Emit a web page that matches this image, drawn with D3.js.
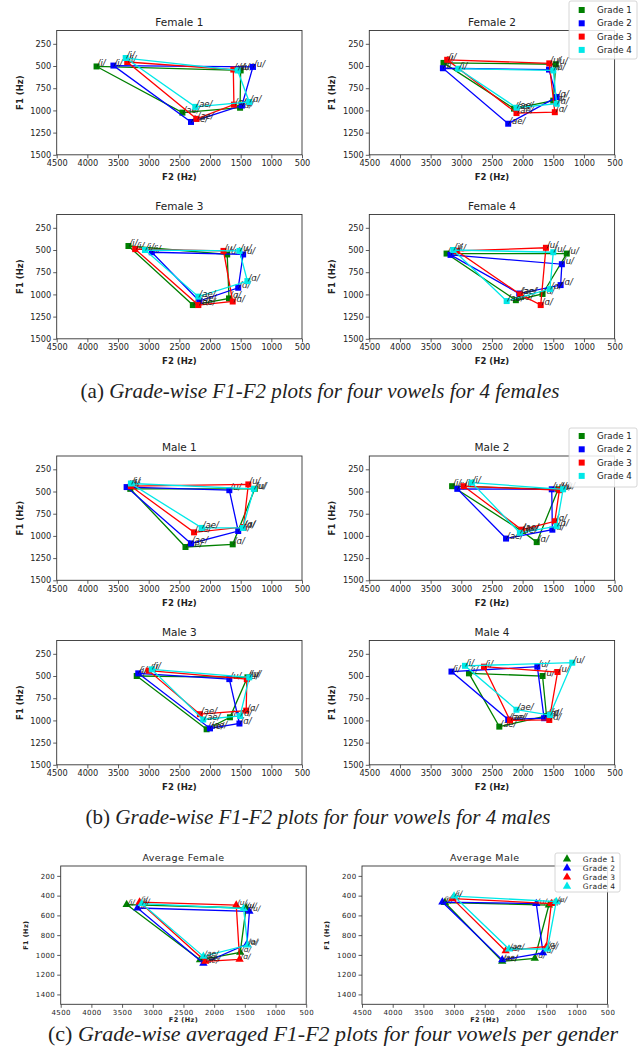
<!DOCTYPE html>
<html>
<head>
<meta charset="utf-8">
<title>Grade-wise F1-F2 plots</title>
<script src="https://d3js.org/d3.v7.min.js"></script>
<style>
  body { margin: 0; background: #fff; }
  svg text { font-family: "DejaVu Sans", sans-serif; fill: #222; }
  .caption { font-family: "Liberation Serif", "Times New Roman", serif; }
</style>
</head>
<body>
<script>
// vowel order inside each row: /i/, /u/, /ɑ/, /ae/ ; one row per grade
var grades = ["Grade 1", "Grade 2", "Grade 3", "Grade 4"];
var vowels = ["/i/", "/u/", "/ɑ/", "/ae/"];
var gradeColors = ["#008000", "#0000ff", "#ff0000", "#00e8e8"];

var f2Ticks = [4500, 4000, 3500, 3000, 2500, 2000, 1500, 1000, 500];
var f1TicksSpeaker = [250, 500, 750, 1000, 1250, 1500];
var f1TicksAverage = [200, 400, 600, 800, 1000, 1200, 1400];

var female1F2 = [[3850, 1500, 1510, 2450], [3575, 1300, 1480, 2310], [3350, 1620, 1610, 2220], [3375, 1550, 1360, 2240]];
var female1F1 = [[505, 550, 970, 1025], [495, 510, 945, 1130], [455, 540, 935, 1095], [410, 550, 905, 960]];

var female2F2 = [[3290, 1460, 1500, 2140], [3300, 1570, 1445, 2235], [3230, 1565, 1475, 2100], [3050, 1500, 1445, 2100]];
var female2F1 = [[465, 480, 890, 980], [525, 540, 850, 1150], [430, 470, 1020, 1030], [530, 550, 925, 970]];

var female3F2 = [[3330, 1720, 1690, 2280], [2950, 1460, 1540, 2175], [3220, 1780, 1630, 2190], [3060, 1520, 1390, 2190]];
var female3F1 = [[455, 550, 1045, 1120], [525, 550, 925, 1075], [490, 510, 1080, 1120], [500, 510, 850, 1025]];

var female4F2 = [[3240, 1280, 1675, 2110], [3175, 1360, 1380, 2055], [3075, 1620, 1705, 2040], [3130, 1500, 1555, 2260]];
var female4F1 = [[540, 540, 995, 1065], [555, 660, 895, 990], [510, 475, 1120, 1000], [500, 525, 940, 1075]];

var male1F2 = [[3300, 1270, 1630, 2400], [3360, 1685, 1540, 2310], [3290, 1375, 1455, 2260], [3290, 1285, 1465, 2135]];
var male1F1 = [[470, 470, 1095, 1125], [450, 485, 945, 1085], [440, 420, 900, 960], [410, 470, 910, 910]];

var male2F2 = [[3150, 1420, 1770, 2015], [3065, 1525, 1515, 2270], [2960, 1400, 1475, 2015], [2830, 1340, 1445, 2045]];
var male2F1 = [[440, 475, 1070, 945], [470, 475, 930, 1030], [440, 485, 835, 930], [400, 475, 890, 965]];

var male3F2 = [[3195, 1390, 1675, 2055], [3170, 1685, 1520, 2000], [3000, 1400, 1410, 2165], [2950, 1360, 1510, 2110]];
var male3F1 = [[500, 515, 965, 1100], [470, 535, 1035, 1090], [440, 535, 890, 930], [425, 515, 950, 990]];

var male4F2 = [[2875, 1675, 1610, 2380], [3160, 1760, 1650, 2235], [2630, 1430, 1565, 2205], [2940, 1190, 1555, 2100]];
var male4F1 = [[470, 500, 950, 1070], [450, 395, 975, 990], [395, 455, 995, 1000], [385, 350, 940, 880]];

var avgFemaleF2 = [[3425, 1480, 1575, 2230], [3250, 1425, 1465, 2175], [3215, 1640, 1585, 2145], [3180, 1520, 1455, 2175]];
var avgFemaleF1 = [[490, 525, 975, 1050], [525, 560, 890, 1085], [465, 495, 1045, 1065], [480, 530, 900, 1015]];

var avgMaleF2 = [[3150, 1455, 1685, 2215], [3190, 1660, 1550, 2215], [3025, 1415, 1495, 2160], [3000, 1335, 1480, 2105]];
var avgMaleF1 = [[470, 495, 1035, 1065], [465, 480, 980, 1050], [430, 480, 915, 960], [405, 460, 940, 940]];

var captions = [
  { tag: "(a) ", text: "Grade-wise F1-F2 plots for four vowels for 4 females", x: 320, y: 398, size: 21 },
  { tag: "(b) ", text: "Grade-wise F1-F2 plots for four vowels for 4 males", x: 318, y: 824, size: 21 },
  { tag: "(c) ", text: "Grade-wise averaged F1-F2 plots for four vowels per gender", x: 333, y: 1041, size: 22 }
];

var width = 643, height = 1047;
var svg = d3.select("body").append("svg").attr("width", width).attr("height", height);

// frame positions of each subplot
var speakerStyle = { w: 245.3, h: 124.3, ticks: f1TicksSpeaker, marker: d3.symbolSquare, size: 36,
  tickFont: 8.2, titleFont: 10.5, labelFont: 8.5, vowelFont: 8.5, ylabelOff: 37, xlabelOff: 22.5, spacing: 0 };
var averageStyle = { w: 245.5, h: 138.3, ticks: f1TicksAverage, marker: d3.symbolTriangle, size: 30,
  tickFont: 7, titleFont: 9.5, labelFont: 6.5, vowelFont: 7.5, ylabelOff: 35, xlabelOff: 16, spacing: 0.4 };

var panels = [
  { title: "Female 1", f2: female1F2, f1: female1F1, x: 56.7, y: 30.5, s: speakerStyle },
  { title: "Female 2", f2: female2F2, f1: female2F1, x: 369.3, y: 30.5, s: speakerStyle,
    legend: { x: 569, y: 1, w: 68, h: 58, first: 9, step: 13.3, mx: 12.7, tx: 28, font: 8.7 } },
  { title: "Female 3", f2: female3F2, f1: female3F1, x: 56.7, y: 214.5, s: speakerStyle },
  { title: "Female 4", f2: female4F2, f1: female4F1, x: 369.3, y: 214.5, s: speakerStyle },
  { title: "Male 1", f2: male1F2, f1: male1F1, x: 56.7, y: 456, s: speakerStyle },
  { title: "Male 2", f2: male2F2, f1: male2F1, x: 369.3, y: 456, s: speakerStyle,
    legend: { x: 569, y: 428, w: 68, h: 59, first: 8, step: 13.3, mx: 12.7, tx: 28, font: 8.7 } },
  { title: "Male 3", f2: male3F2, f1: male3F1, x: 56.7, y: 640.5, s: speakerStyle },
  { title: "Male 4", f2: male4F2, f1: male4F1, x: 369.3, y: 640.5, s: speakerStyle },
  { title: "Average Female", f2: avgFemaleF2, f1: avgFemaleF1, x: 60.7, y: 866, s: averageStyle },
  { title: "Average Male", f2: avgMaleF2, f1: avgMaleF1, x: 362, y: 866, s: averageStyle,
    legend: { x: 555, y: 853, w: 65, h: 39, first: 6, step: 9.1, mx: 12, tx: 27.7, font: 7.5 } }
];

panels.forEach(drawPanel);

function drawPanel(p) {
  var s = p.s;
  var g = svg.append("g").attr("transform", "translate(" + p.x + "," + p.y + ")");

  var xScale = d3.scaleLinear().domain([4500, 500]).range([0, s.w]);
  var yScale = d3.scaleLinear().domain([100, 1500]).range([0, s.h]);

  // axes
  var xAxis = g.append("g")
    .attr("transform", "translate(0," + s.h + ")")
    .call(d3.axisBottom(xScale).tickValues(f2Ticks).tickFormat(d3.format("d")).tickSize(3.5).tickPadding(2));
  var yAxis = g.append("g")
    .call(d3.axisLeft(yScale).tickValues(s.ticks).tickFormat(d3.format("d")).tickSize(3.5).tickPadding(2));
  [xAxis, yAxis].forEach(function (a) {
    a.select(".domain").remove();
    a.selectAll(".tick line").attr("stroke", "#333").attr("stroke-width", 0.8);
    a.selectAll(".tick text").attr("font-family", "DejaVu Sans").attr("font-size", s.tickFont)
      .attr("letter-spacing", s.spacing).attr("fill", "#333");
  });

  // frame
  g.append("rect").attr("width", s.w).attr("height", s.h)
    .attr("fill", "none").attr("stroke", "#333").attr("stroke-width", 0.9);

  g.append("text").attr("x", s.w / 2).attr("y", -5).attr("text-anchor", "middle")
    .attr("font-size", s.titleFont).attr("letter-spacing", s.spacing).text(p.title);

  g.append("text").attr("x", s.w / 2).attr("y", s.h + s.xlabelOff)
    .attr("text-anchor", "middle").attr("dominant-baseline", "central")
    .attr("font-size", s.labelFont).attr("font-weight", "bold").attr("letter-spacing", s.spacing)
    .text("F2 (Hz)");

  g.append("text")
    .attr("transform", "translate(" + (-s.ylabelOff) + "," + (s.h / 2) + ") rotate(-90)")
    .attr("text-anchor", "middle").attr("dominant-baseline", "central")
    .attr("font-size", s.labelFont).attr("font-weight", "bold").attr("letter-spacing", s.spacing)
    .text("F1 (Hz)");

  var line = d3.line()
    .x(function (d) { return xScale(d[0]); })
    .y(function (d) { return yScale(d[1]); })
    .curve(d3.curveLinearClosed);

  grades.forEach(function (grade, gi) {
    var pts = p.f2[gi].map(function (f2, vi) { return [f2, p.f1[gi][vi], vowels[vi]]; });
    var gg = g.append("g");
    gg.append("path").attr("d", line(pts))
      .attr("fill", "none").attr("stroke", gradeColors[gi]).attr("stroke-width", 1.3);
    gg.selectAll("path.mk").data(pts).enter().append("path").attr("class", "mk")
      .attr("transform", function (d) { return "translate(" + xScale(d[0]) + "," + yScale(d[1]) + ")"; })
      .attr("d", d3.symbol().type(s.marker).size(s.size))
      .attr("fill", gradeColors[gi]);
    gg.selectAll("text.vw").data(pts).enter().append("text").attr("class", "vw")
      .attr("x", function (d) { return xScale(d[0]) + 1; })
      .attr("y", function (d) { return yScale(d[1]); })
      .attr("font-size", s.vowelFont).attr("font-style", "italic")
      .text(function (d) { return d[2]; });
  });

  if (p.legend) {
    var L = p.legend;
    var lg = svg.append("g").attr("transform", "translate(" + L.x + "," + L.y + ")");
    lg.append("rect").attr("width", L.w).attr("height", L.h).attr("rx", 2)
      .attr("fill", "#fff").attr("fill-opacity", 0.85).attr("stroke", "#ccc").attr("stroke-width", 0.8);
    grades.forEach(function (grade, gi) {
      var yy = L.first + gi * L.step;
      lg.append("path").attr("transform", "translate(" + L.mx + "," + yy + ")")
        .attr("d", d3.symbol().type(s.marker).size(s.size)).attr("fill", gradeColors[gi]);
      lg.append("text").attr("x", L.tx).attr("y", yy).attr("dominant-baseline", "central")
        .attr("font-size", L.font).attr("letter-spacing", s.spacing).text(grade);
    });
  }
}

captions.forEach(function (c) {
  var t = svg.append("text").attr("class", "caption").attr("font-size", c.size)
    .attr("x", c.x).attr("y", c.y).attr("text-anchor", "middle");
  t.append("tspan").text(c.tag);
  t.append("tspan").attr("font-style", "italic").text(c.text);
});
</script>
</body>
</html>
